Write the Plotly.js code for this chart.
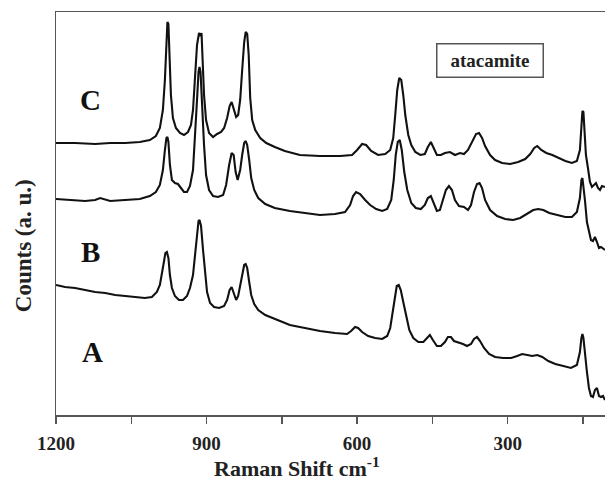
<!DOCTYPE html>
<html>
<head>
<meta charset="utf-8">
<script src="https://cdn.plot.ly/plotly-3.0.1.min.js"></script>
<style>html,body{margin:0;padding:0;background:#fff;}#chart{width:605px;height:482px;}</style>
</head>
<body>
<div id="chart"></div>
<script>
// Spectrum names
var seriesNames = ['A', 'B', 'C'];
var boxLabel = 'atacamite';

// Spectrum C (top)
var cShift = [1200,1162,1122,1092,1062,1033,1013,1001,993,987,
983,980,978,976,974,971,967,961,953,945,
937,931,927,923,919,915,912,910,908,905,
901,895,887,879,871,865,859,854,850,846,
841,837,833,829,825,822,819,816,813,809,
803,793,781,764,744,714,674,634,610,600,
590,582,572,558,544,534,528,524,520,516,
512,508,504,498,492,484,474,465,459,453,
447,441,433,425,415,405,395,387,379,371,
363,357,351,345,335,325,311,295,279,265,
255,247,241,233,223,211,199,185,172,162,
156,153,151,149,147,144,140,136,132,128,
124,120,116,112,106];
var cCounts = [272,272,271,272,272,273,275,279,287,305,
335,375,393,391,365,320,297,287,282,280,
283,290,305,335,370,382,379,382,360,320,
295,282,278,281,283,287,297,309,313,307,
298,300,315,345,373,383,381,360,317,295,
285,277,272,268,264,260,259,259,260,265,
271,270,264,260,261,265,277,300,325,337,
335,320,300,280,270,263,260,261,268,273,
267,260,260,262,263,260,262,261,265,273,
281,282,277,269,260,255,252,251,253,256,
261,267,269,265,262,260,257,254,252,254,
265,290,304,303,280,260,247,233,228,230,
232,227,225,229,228];

// Spectrum B (middle)
var bShift = [1200,1172,1142,1122,1112,1092,1062,1033,1013,1001,
993,987,983,980,978,976,973,969,963,957,
951,945,939,933,927,923,919,916,914,912,
909,905,901,895,887,877,867,861,855,850,
846,842,838,833,829,825,822,819,815,811,
805,797,783,764,734,704,674,644,624,614,
608,602,594,584,574,562,550,540,532,527,
523,519,515,511,506,500,492,483,473,465,
459,453,447,441,435,429,423,417,411,405,
397,387,379,373,367,361,356,351,345,335,
321,305,289,275,261,249,239,229,217,203,
185,172,162,156,153,151,149,146,142,138,
134,130,126,122,118,114,110,106];
var bCounts = [216,215,214,215,217,214,215,216,219,223,
230,245,265,277,278,273,250,235,232,231,
227,223,223,229,245,275,315,343,348,343,
310,270,240,225,219,218,220,230,250,262,
260,243,235,245,260,272,274,270,255,237,
225,217,211,207,204,202,200,201,203,210,
219,223,221,215,210,206,204,206,215,235,
260,273,275,265,243,225,212,207,206,210,
217,219,212,204,205,215,225,229,225,215,
209,208,205,210,223,231,232,227,215,205,
199,196,195,197,201,205,206,205,202,200,
198,198,203,217,235,237,230,215,193,182,
175,174,178,173,167,168,166,165];

// Spectrum A (bottom)
var aShift = [1200,1182,1162,1142,1122,1102,1082,1062,1043,1023,
1009,999,993,989,985,982,979,976,973,969,
963,955,947,939,933,927,923,919,916,914,
911,907,903,899,893,885,875,865,859,854,
850,846,841,837,833,829,825,822,819,815,
811,805,797,783,764,734,704,674,644,620,
612,604,598,590,578,564,550,540,534,529,
525,521,517,513,508,502,496,488,478,468,
461,455,449,441,433,425,419,413,407,399,
389,381,373,367,361,355,347,337,325,309,
293,281,271,261,251,241,231,219,205,189,
174,162,156,153,151,149,146,142,138,134,
130,126,122,118,114,110,106];
var aCounts = [130,128,127,125,123,122,120,119,118,117,
118,123,130,140,153,162,163,157,140,127,
119,115,115,119,127,140,160,183,194,195,
189,165,140,123,112,108,107,109,115,125,
128,123,115,119,130,143,150,151,147,133,
120,111,105,100,96,90,87,84,82,81,
84,88,87,83,79,77,76,79,87,103,
120,129,130,125,113,97,85,77,73,73,
77,80,75,69,69,73,78,78,74,73,
71,69,71,76,78,74,67,61,58,57,
57,59,61,60,59,60,58,54,51,49,
47,50,63,77,81,77,60,43,27,19,
18,25,27,19,18,19,15];

// Axis ticks
var tickValues = [1200,900,600,300];
var tickLabels = ['1200','900','600','300'];
var minorTickValues = [1050,750,450,150];

var serif = 'Liberation Serif, Times New Roman, serif';
var lineStyle = {color:'#111', width:2.1};

var traces = [
  {x:aShift, y:aCounts, name:seriesNames[0], mode:'lines', line:lineStyle, showlegend:false, hoverinfo:'skip'},
  {x:bShift, y:bCounts, name:seriesNames[1], mode:'lines', line:lineStyle, showlegend:false, hoverinfo:'skip'},
  {x:cShift, y:cCounts, name:seriesNames[2], mode:'lines', line:lineStyle, showlegend:false, hoverinfo:'skip'}
];

var layout = {
  width:605, height:482,
  margin:{l:56, r:0, t:12, b:67, pad:0},
  paper_bgcolor:'#fff', plot_bgcolor:'#fff',
  showlegend:false,
  xaxis:{
    range:[1200,106], tickmode:'array', tickvals:tickValues,
    ticktext:tickLabels.map(function(t){return '<b>'+t+'</b>';}),
    ticks:'outside', ticklen:7, tickwidth:1.5, tickcolor:'#555',
    minor:{tickmode:'array', tickvals:minorTickValues, ticks:'outside', ticklen:7, tickwidth:1.5, tickcolor:'#555', showgrid:false},
    showline:true, linecolor:'#555', linewidth:1.5, mirror:true,
    showgrid:false, zeroline:false, ticklabelstandoff:4,
    tickfont:{family:serif, size:19, color:'#222'}
  },
  yaxis:{
    range:[0,403], showticklabels:false, ticks:'',
    showline:true, linecolor:'#555', linewidth:1.5,
    showgrid:false, zeroline:false
  },
  annotations:[
    {xref:'x', yref:'y', x:1132, y:315, text:'<b>'+seriesNames[2]+'</b>', showarrow:false,
     font:{family:serif, size:29, color:'#111'}, xanchor:'center', yanchor:'middle'},
    {xref:'x', yref:'y', x:1132, y:163, text:'<b>'+seriesNames[1]+'</b>', showarrow:false,
     font:{family:serif, size:29, color:'#111'}, xanchor:'center', yanchor:'middle'},
    {xref:'x', yref:'y', x:1128, y:63, text:'<b>'+seriesNames[0]+'</b>', showarrow:false,
     font:{family:serif, size:29, color:'#111'}, xanchor:'center', yanchor:'middle'},
    {xref:'x', yref:'y', x:336, y:355, text:'<b>'+boxLabel+'</b>', showarrow:false,
     font:{family:serif, size:19, color:'#222'}, width:101, height:28,
     bordercolor:'#555', borderwidth:1.5, borderpad:2, bgcolor:'#fff',
     xanchor:'center', yanchor:'middle'},
    {xref:'paper', yref:'paper', x:0.439, y:-0.129, text:'<b>Raman Shift cm<sup>-1</sup></b>', showarrow:false,
     font:{family:serif, size:22, color:'#222'}, xanchor:'center', yanchor:'middle'},
    {xref:'paper', yref:'paper', x:-0.06, y:0.419, text:'<b>Counts (a. u.)</b>', showarrow:false,
     textangle:-90, font:{family:serif, size:23, color:'#222'}, xanchor:'center', yanchor:'middle'}
  ]
};

Plotly.newPlot('chart', traces, layout, {displayModeBar:false, staticPlot:true});
</script>
</body>
</html>
